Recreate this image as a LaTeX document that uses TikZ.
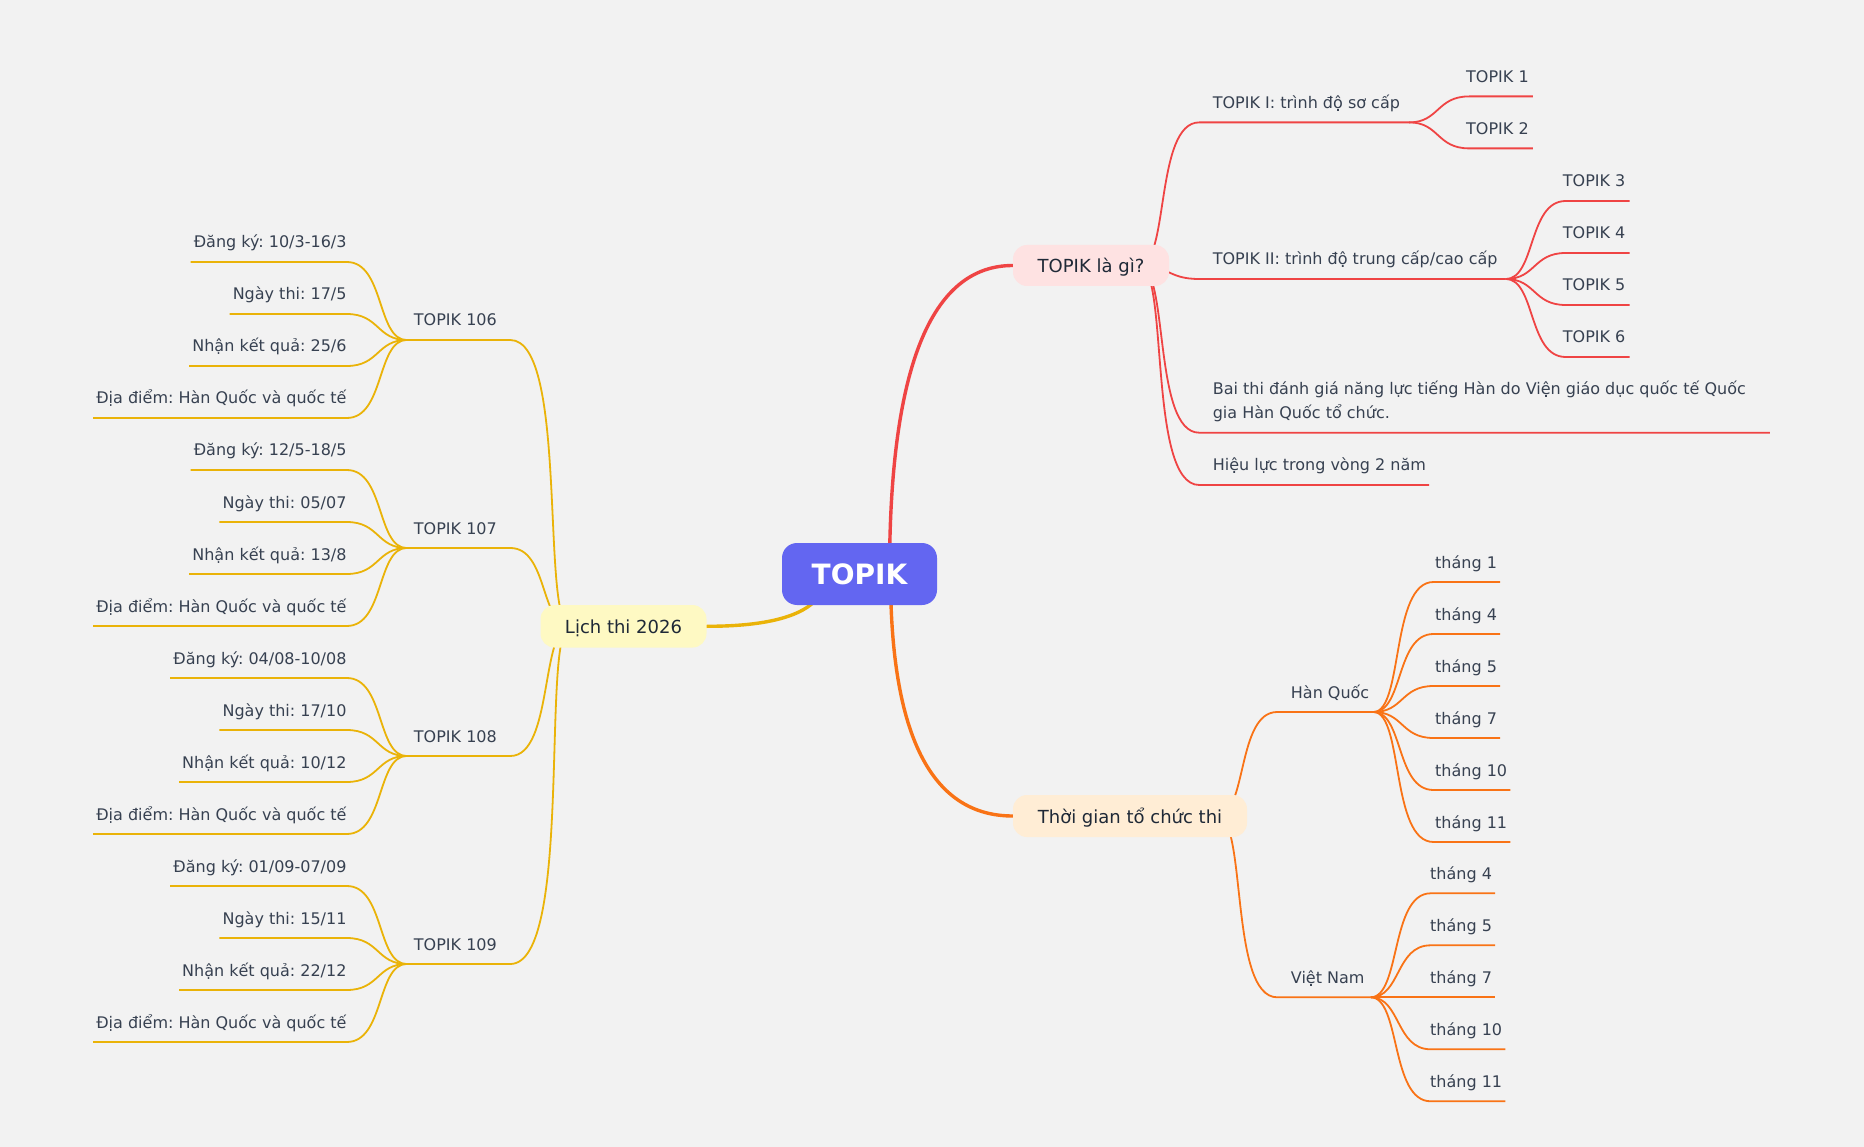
\documentclass[tikz,border=0pt]{standalone}
\usepackage{fontspec}
\setmainfont{DejaVu Sans}
\usetikzlibrary{calc}
\pgfdeclarelayer{bg}
\pgfdeclarelayer{edges}
\pgfsetlayers{bg,edges,main}
\definecolor{bgc}{HTML}{F2F2F2}
\definecolor{leaftxt}{HTML}{374151}
\definecolor{topictxt}{HTML}{1F2937}
\definecolor{rootfill}{HTML}{6366F1}
\definecolor{redl}{HTML}{EF4444}
\definecolor{orl}{HTML}{F97316}
\definecolor{yel}{HTML}{EAB308}
\definecolor{redfill}{HTML}{FEE2E2}
\definecolor{orfill}{HTML}{FFEDD5}
\definecolor{yefill}{HTML}{FEF9C3}
\tikzset{
  leaf/.style={font=\frenchspacing\fontsize{16}{19}\selectfont, text=leaftxt, inner sep=0pt},
  lr/.style={leaf, anchor=base west},
  ll/.style={leaf, anchor=base east},
  topic/.style={rounded corners=14pt, inner sep=0pt, minimum height=42pt,
    text height=14.5pt, text depth=0pt, font=\frenchspacing\fontsize{18}{22}\selectfont, text=topictxt},
  rootnode/.style={fill=rootfill, rounded corners=15pt, inner sep=0pt,
    minimum width=155pt, minimum height=62pt, text height=20.4pt, text depth=0pt,
    font=\bfseries\fontsize{28}{34}\selectfont, text=white},
  subline/.style={line width=1.8pt, line join=round},
  mainline/.style={line width=3.4pt, line cap=round},
}
% right-hand sub branch: #1 underline extension, #2 style, #3 junction, #4 child node
\newcommand\rlink[4]{%
  \draw[#2] let \p1=(#3), \p2=(#4.base east), \n1={abs((\y2)-14pt-(\y1))/10} in
    (\p1) .. controls ({\x1+30pt},\y1) and ({\x1+30pt-\n1},{\y2-14pt}) .. ({\x1+60pt},{\y2-14pt})
    -- ({\x2+#1},{\y2-14pt}) coordinate (#4-e);}
% left-hand sub branch
\newcommand\llink[4]{%
  \draw[#2] let \p1=(#3), \p2=(#4.base west), \n1={abs((\y2)-14pt-(\y1))/10} in
    (\p1) .. controls ({\x1-30pt},\y1) and ({\x1-30pt+\n1},{\y2-14pt}) .. ({\x1-60pt},{\y2-14pt})
    -- ({\x2-#1},{\y2-14pt}) coordinate (#4-e);}
% main branch (quadratic as cubic): #1 signed x offset, #2 style, #3 root, #4 target
\newcommand\mainlink[4]{%
  \draw[#2] let \p1=(#3), \p2=(#4) in ({\x1#1},\y1) .. controls ({\x1#1},{(\y1)+2*((\y2)-(\y1))/3})
    and ({\x2+2*(\x1#1-\x2)/3},\y2) .. (\p2);}

\begin{document}
\frenchspacing
\begin{tikzpicture}[x=1pt,y=-1pt]
\begin{pgfonlayer}{bg}
\fill[bgc] (0,0) rectangle (1864,1147);
\end{pgfonlayer}
\useasboundingbox (0,0) rectangle (1864,1147);

% ---------- central and main topics ----------
\node[rootnode] (root) at (859.5,574) {TOPIK};
\node[topic, fill=redfill, minimum width=156pt, minimum height=41pt] (P1) at (1091,265.5) {TOPIK là gì?};
\node[topic, fill=orfill, minimum width=234pt] (P2) at (1130,816) {Thời gian tổ chức thi};
\node[topic, fill=yefill, minimum width=166pt, minimum height=42.5pt] (P3) at (623.5,626.3) {Lịch thi 2026};

\coordinate (P1-j) at ([xshift=-30pt]P1.east);
\coordinate (P2-j) at ([xshift=-30pt]P2.east);
\coordinate (P3-j) at ([xshift=30pt]P3.west);

% ---------- red branch ----------
\node[lr] (a1) at (1212.6,108.4) {TOPIK I: trình độ sơ cấp};
\node[lr] (a2) at (1212.6,265) {TOPIK II: trình độ trung cấp/cao cấp};
\node[lr] (a3) at (1212.6,418.7) {\fontsize{16}{24}\selectfont\begin{tabular}[b]{@{}l@{}}Bai thi đánh giá năng lực tiếng Hàn do Viện giáo dục quốc tế Quốc\\gia Hàn Quốc tổ chức.\end{tabular}};
\node[lr] (a4) at (1212.6,471) {Hiệu lực trong vòng 2 năm};

\node[lr] (t1) at (1466,82.4) {TOPIK 1};
\node[lr] (t2) at (1466,134.4) {TOPIK 2};
\node[lr] (t3) at (1562.7,187) {TOPIK 3};
\node[lr] (t4) at (1562.7,239) {TOPIK 4};
\node[lr] (t5) at (1562.7,291) {TOPIK 5};
\node[lr] (t6) at (1562.7,343) {TOPIK 6};

% ---------- orange branch ----------
\node[lr] (hq) at (1290.7,698) {Hàn Quốc};
\node[lr] (vn) at (1290.7,983.3) {Việt Nam};

\node[lr] (h1) at (1435,568) {tháng 1};
\node[lr] (h2) at (1435,620) {tháng 4};
\node[lr] (h3) at (1435,672) {tháng 5};
\node[lr] (h4) at (1435,724) {tháng 7};
\node[lr] (h5) at (1435,776) {tháng 10};
\node[lr] (h6) at (1435,828) {tháng 11};

\node[lr] (v1) at (1430,879.3) {tháng 4};
\node[lr] (v2) at (1430,931.3) {tháng 5};
\node[lr] (v3) at (1430,983.3) {tháng 7};
\node[lr] (v4) at (1430,1035.3) {tháng 10};
\node[lr] (v5) at (1430,1087.3) {tháng 11};

% ---------- yellow branch ----------
\node[ll] (k6) at (497,326) {TOPIK 106};
\node[ll] (k7) at (497,534) {TOPIK 107};
\node[ll] (k8) at (497,742) {TOPIK 108};
\node[ll] (k9) at (497,950) {TOPIK 109};

\node[ll] (k6a) at (346.7,248) {Đăng ký: 10/3-16/3};
\node[ll] (k6b) at (346.7,300) {Ngày thi: 17/5};
\node[ll] (k6c) at (346.7,352) {Nhận kết quả: 25/6};
\node[ll] (k6d) at (346.7,404) {Địa điểm: Hàn Quốc và quốc tế};

\node[ll] (k7a) at (346.7,456) {Đăng ký: 12/5-18/5};
\node[ll] (k7b) at (346.7,508) {Ngày thi: 05/07};
\node[ll] (k7c) at (346.7,560) {Nhận kết quả: 13/8};
\node[ll] (k7d) at (346.7,612) {Địa điểm: Hàn Quốc và quốc tế};

\node[ll] (k8a) at (346.7,664) {Đăng ký: 04/08-10/08};
\node[ll] (k8b) at (346.7,716) {Ngày thi: 17/10};
\node[ll] (k8c) at (346.7,768) {Nhận kết quả: 10/12};
\node[ll] (k8d) at (346.7,820) {Địa điểm: Hàn Quốc và quốc tế};

\node[ll] (k9a) at (346.7,872) {Đăng ký: 01/09-07/09};
\node[ll] (k9b) at (346.7,924) {Ngày thi: 15/11};
\node[ll] (k9c) at (346.7,976) {Nhận kết quả: 22/12};
\node[ll] (k9d) at (346.7,1028) {Địa điểm: Hàn Quốc và quốc tế};

% ---------- connectors ----------
\begin{pgfonlayer}{edges}
\mainlink{+30pt}{mainline, redl}{root.center}{P1.west}
\mainlink{+31pt}{mainline, orl}{root.center}{P2.west}
\mainlink{-33.5pt}{mainline, yel}{root.center}{P3.east}

\rlink{9pt}{subline, redl}{P1-j}{a1}
\rlink{8pt}{subline, redl}{P1-j}{a2}
\rlink{24pt}{subline, redl}{P1-j}{a3}
\rlink{3pt}{subline, redl}{P1-j}{a4}
\rlink{4pt}{subline, redl}{a1-e}{t1}
\rlink{4pt}{subline, redl}{a1-e}{t2}
\rlink{4pt}{subline, redl}{a2-e}{t3}
\rlink{4pt}{subline, redl}{a2-e}{t4}
\rlink{4pt}{subline, redl}{a2-e}{t5}
\rlink{4pt}{subline, redl}{a2-e}{t6}

\rlink{4pt}{subline, orl}{P2-j}{hq}
\rlink{6pt}{subline, orl}{P2-j}{vn}
\foreach \c in {h1,h2,h3,h4,h5,h6} {\rlink{3pt}{subline, orl}{hq-e}{\c}}
\foreach \c in {v1,v2,v3,v4,v5} {\rlink{3pt}{subline, orl}{vn-e}{\c}}

\foreach \c in {k6,k7,k8,k9} {\llink{7pt}{subline, yel}{P3-j}{\c}}
\foreach \c in {k6a,k6b,k6c,k6d} {\llink{3pt}{subline, yel}{k6-e}{\c}}
\foreach \c in {k7a,k7b,k7c,k7d} {\llink{3pt}{subline, yel}{k7-e}{\c}}
\foreach \c in {k8a,k8b,k8c,k8d} {\llink{3pt}{subline, yel}{k8-e}{\c}}
\foreach \c in {k9a,k9b,k9c,k9d} {\llink{3pt}{subline, yel}{k9-e}{\c}}
\end{pgfonlayer}
\end{tikzpicture}
\end{document}
